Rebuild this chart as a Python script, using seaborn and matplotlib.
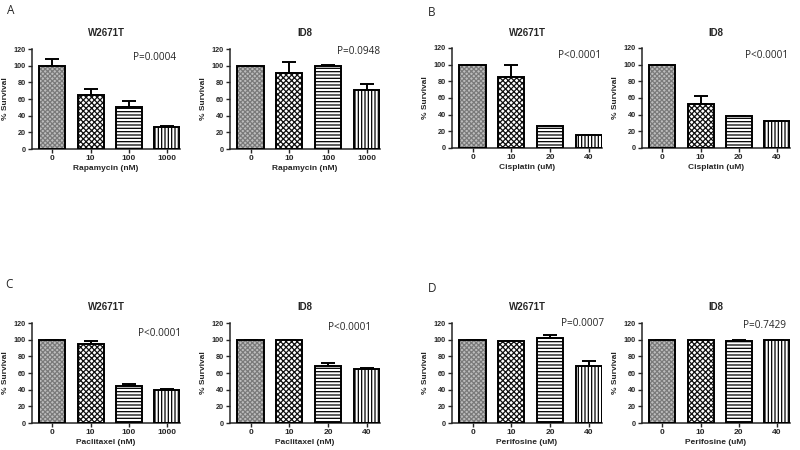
import matplotlib
matplotlib.use("Agg")
import matplotlib.pyplot as plt
import seaborn as sns
import numpy as np

sns.set_theme(style="ticks")
plt.rcParams['font.family'] = ['Liberation Sans', 'DejaVu Sans']
plt.rcParams['hatch.linewidth'] = 0.9

# ---- data ----
doses_rapa = ["0", "10", "100", "1000"]
doses_cis = ["0", "10", "20", "40"]
doses_pac_w = ["0", "10", "100", "1000"]
doses_pac_id = ["0", "10", "20", "40"]
doses_peri = ["0", "10", "20", "40"]

a_w_vals = [100, 65, 50, 26]
a_w_err = [8, 7, 8, 2]
a_i_vals = [100, 91, 100, 71]
a_i_err = [0, 14, 0.5, 7]
b_w_vals = [100, 85, 27, 16]
b_w_err = [0, 15, 0, 0]
b_i_vals = [100, 53, 38, 32]
b_i_err = [0, 9, 0, 0]
c_w_vals = [100, 95, 45, 40]
c_w_err = [0, 4, 1.5, 1]
c_i_vals = [100, 100, 69, 65]
c_i_err = [0, 0, 3, 1]
d_w_vals = [100, 98, 102, 68]
d_w_err = [0, 0.5, 4, 6]
d_i_vals = [100, 99.5, 99, 99.5]
d_i_err = [0, 0, 1, 0]

titles = ["W2671T", "ID8"]
xlabels = ["Rapamycin (nM)", "Rapamycin (nM)", "Cisplatin (uM)", "Cisplatin (uM)",
           "Paclitaxel (nM)", "Paclitaxel (nM)", "Perifosine (uM)", "Perifosine (uM)"]
pvals = ["P=0.0004", "P=0.0948", "P<0.0001", "P<0.0001",
         "P<0.0001", "P<0.0001", "P=0.0007", "P=0.7429"]

panels = [
    (doses_rapa, a_w_vals, a_w_err),
    (doses_rapa, a_i_vals, a_i_err),
    (doses_cis, b_w_vals, b_w_err),
    (doses_cis, b_i_vals, b_i_err),
    (doses_pac_w, c_w_vals, c_w_err),
    (doses_pac_id, c_i_vals, c_i_err),
    (doses_peri, d_w_vals, d_w_err),
    (doses_peri, d_i_vals, d_i_err),
]

# ---- layout (pixels) ----
W, H = 800, 450
boxes = [  # left, right, top, bottom
    (32, 180, 49, 149), (230, 380, 49, 149),
    (452, 602, 48, 148), (642, 790, 48, 148),
    (32, 180, 323, 423), (230, 380, 323, 423),
    (452, 602, 323, 423), (642, 790, 323, 423),
]
p_pos = [(0.83, 0.91), (0.86, 0.98), (0.85, 0.93), (0.84, 0.93),
         (0.86, 0.89), (0.80, 0.96), (0.87, 1.0), (0.83, 0.97)]
hatches = ['xxxxxxx', 'xxxxxx', '-----', '|||||']
hatch_cols = ['#7a7a7a', '#111111', 'black', 'black']
faces = ['#bdbdbd', 'white', 'white', 'white']

fig = plt.figure(figsize=(8, 4.5), dpi=100)

for i, ((doses, vals, errs), (l, r, t, b)) in enumerate(zip(panels, boxes)):
    ax = fig.add_axes([l / W, 1 - b / H, (r - l) / W, (b - t) / H])
    # hatched fills (hatch colour follows the edge colour)
    sns.barplot(x=doses, y=vals, color='white', linewidth=0, width=0.68,
                ax=ax, errorbar=None, zorder=2)
    for j, p in enumerate(ax.patches):
        p.set_hatch(hatches[j])
        p.set_facecolor(faces[j])
        p.set_edgecolor(hatch_cols[j])
        p.set_linewidth(0)
    # black outlines on top
    sns.barplot(x=doses, y=vals, fill=False, edgecolor='black', linewidth=1.4,
                width=0.68, ax=ax, errorbar=None, zorder=3)
    xs = np.arange(len(vals))
    ax.errorbar(xs, vals, yerr=[np.zeros(len(errs)), errs], fmt='none',
                ecolor='black', elinewidth=1.4, capsize=5, capthick=1.4, zorder=1)
    ax.set_xlim(-0.53, 3.34)
    ax.set_ylim(0, 120)
    ax.set_yticks(range(0, 121, 20))
    ax.tick_params(axis='both', length=3, width=1, pad=1.5)
    ax.tick_params(axis='x', labelsize=6)
    ax.tick_params(axis='y', labelsize=5.2)
    for lab in ax.get_xticklabels() + ax.get_yticklabels():
        lab.set_fontweight('bold')
    ax.set_title(titles[i % 2], fontsize=7, fontweight='bold', pad=9)
    ax.set_xlabel(xlabels[i], fontsize=6, fontweight='bold', labelpad=2)
    ax.set_ylabel("% Survival", fontsize=6, fontweight='bold', labelpad=3)
    sns.despine(ax=ax)
    for s in ['left', 'bottom']:
        ax.spines[s].set_linewidth(1.1)
    ax.text(p_pos[i][0], p_pos[i][1], pvals[i], transform=ax.transAxes,
            ha='center', va='center', fontsize=7.2, family=['Open Sans', 'DejaVu Sans'])

for letter, (x, y) in zip("ABCD", [(7, 11), (428, 12), (5, 284), (428, 288)]):
    fig.text(x / W, 1 - y / H, letter, fontsize=8.5, ha='left', va='center',
             family=['Open Sans', 'DejaVu Sans'])

fig.savefig("out.png", dpi=100)
